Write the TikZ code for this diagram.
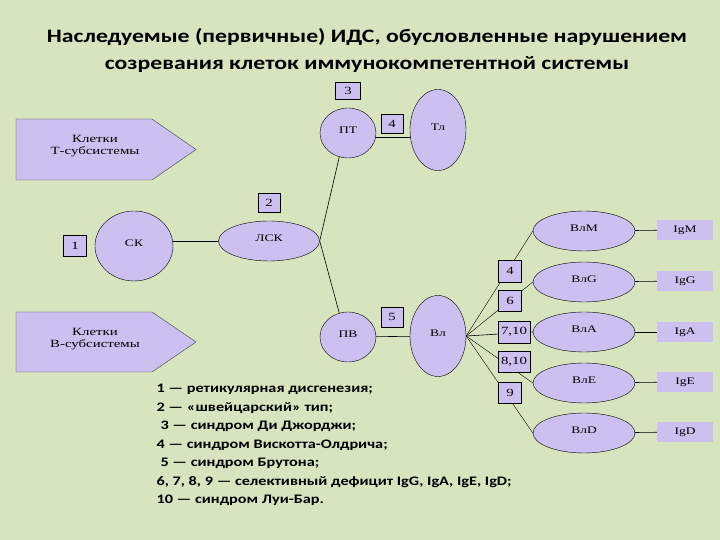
\documentclass[tikz,border=0pt]{standalone}
\usepackage{fontspec}
\setmainfont{Liberation Serif}
\newfontfamily\headfont[FakeStretch=1.25]{Carlito}
\newfontfamily\cellfont[FakeStretch=1.35]{Liberation Serif}
\usepackage{xcolor}
\usetikzlibrary{positioning, shapes.geometric, calc, backgrounds}

\definecolor{bgcol}{RGB}{216,228,189}
\definecolor{lilac}{RGB}{204,192,240}

\begin{document}
\begin{tikzpicture}[x=1pt, y=1pt,
		cell/.style={draw, ellipse, fill=lilac, inner sep=0pt, text depth=5pt, font=\cellfont\fontsize{10}{12}\selectfont},
		num/.style={draw, fill=lilac, inner sep=0pt, font=\cellfont\fontsize{11}{12}\selectfont},
		ig/.style={fill=lilac, minimum width=56pt, minimum height=20pt, inner sep=0pt, font=\cellfont\fontsize{10}{12}\selectfont},
		sub/.style={draw=black!75, fill=lilac},
		subtext/.style={align=center, inner sep=0pt, font=\cellfont\fontsize{11}{12}\selectfont},
		edge/.style={semithick}]

		\begin{scope}[on background layer]
			\fill[bgcol] (0,0) rectangle (720,540);
		\end{scope}
		\useasboundingbox (0,0) rectangle (720,540);

		\node[font=\headfont\bfseries\fontsize{19}{27}\selectfont, align=center] (title) at (367,490)
			{Наследуемые (первичные) ИДС, обусловленные нарушением\\созревания клеток иммунокомпетентной системы};

		\draw[sub] (16,360) -- (152,360) -- (196,390.5) -- (152,421) -- (16,421) -- cycle;
		\node[subtext] (tsub) at (95,394) {Клетки\\Т-субсистемы};
		\draw[sub] (16,168) -- (152,168) -- (196,198) -- (152,228) -- (16,228) -- cycle;
		\node[subtext] (bsub) at (95,201) {Клетки\\В-субсистемы};

		\node[cell, minimum width=78pt, minimum height=70pt] (sk) at (134,294) {СК};
		\node[cell, minimum width=101pt, minimum height=40pt] (lsk) at (269,299) {ЛСК};
		\node[cell, minimum width=56pt, minimum height=50pt] (pt) at (348,407) {ПТ};
		\node[cell, minimum width=56pt, minimum height=81pt] (tl) at (438,410) {Тл};
		\node[cell, minimum width=56pt, minimum height=50pt] (pv) at (348,203) {ПВ};
		\node[cell, minimum width=56pt, minimum height=81pt] (vl) at (438,204) {Вл};

		\node[cell, minimum width=102pt, minimum height=40pt] (vlm) at (584,309) {ВлМ};
		\node[cell, minimum width=102pt, minimum height=40pt] (vlg) at (584,258) {ВлG};
		\node[cell, minimum width=102pt, minimum height=40pt] (vla) at (584,208) {ВлА};
		\node[cell, minimum width=102pt, minimum height=40pt] (vle) at (584,157) {ВлЕ};
		\node[cell, minimum width=102pt, minimum height=40pt] (vld) at (584,107) {ВлD};

		\node[ig] (igm) at (685,310) {IgM};
		\node[ig] (igg) at (685,259) {IgG};
		\node[ig] (iga) at (685,208) {IgA};
		\node[ig] (ige) at (685,158) {IgE};
		\node[ig] (igd) at (685,108) {IgD};

		\node[num, minimum width=23pt, minimum height=21pt, left = 8pt of sk] (n1) {1};
		\node[num, minimum width=22pt, minimum height=19pt, above = 8pt of lsk] (n2) {2};
		\node[num, minimum width=25pt, minimum height=17pt, above = 8pt of pt] (n3) {3};
		\node[num, minimum width=22pt, minimum height=19pt] (n4a) at (392,416) {4};
		\node[num, minimum width=22pt, minimum height=20pt] (n5) at (392,223) {5};

		\begin{scope}[on background layer]
			\draw[edge] (lsk.west) -- (lsk.west -| sk.center);
			\draw[edge] (lsk.east) -- (pt.250);
			\draw[edge] (lsk.east) -- (pv.110);
			\draw[edge] ([yshift=-4pt]pt.center) -- ([yshift=-4pt]pt.center -| tl.center);
			\draw[edge] (pv) -- (vl);
			\draw (vl.east) -- (vlm.west);
			\draw (vl.east) -- (vlg.west);
			\draw[edge] (vl.east) -- (vla.west);
			\draw (vl.east) -- (vle.west);
			\draw (vl.east) -- (vld.west);
			\draw[edge] (vlm) -- (igm);
			\draw[edge] (vlg) -- (igg);
			\draw[edge] (vla) -- (iga);
			\draw[edge] (vle) -- (ige);
			\draw[edge] (vld) -- (igd);
		\end{scope}

		\node[num, minimum width=23pt, minimum height=22pt] (n4b) at (510,269) {4};
		\node[num, minimum width=23pt, minimum height=21pt] (n6) at (510,239) {6};
		\node[num, minimum width=32pt, minimum height=22pt] (n7) at (514,208) {7,10};
		\node[num, minimum width=32pt, minimum height=21pt] (n8) at (514,178) {8,10};
		\node[num, minimum width=23pt, minimum height=21pt] (n9) at (510,147) {9};

		\node[font=\headfont\bfseries\fontsize{13}{18.5}\selectfont, align=left, anchor=north west] (legend) at (153,159)
			{1 — ретикулярная дисгенезия;\\
			2 — «швейцарский» тип;\\
			\hspace{4pt}3 — синдром Ди Джорджи;\\
			4 — синдром Вискотта-Олдрича;\\
			\hspace{4pt}5 — синдром Брутона;\\
			6, 7, 8, 9 — селективный дефицит IgG, IgA, IgE, IgD;\\
			10 — синдром Луи-Бар.};
\end{tikzpicture}
\end{document}
